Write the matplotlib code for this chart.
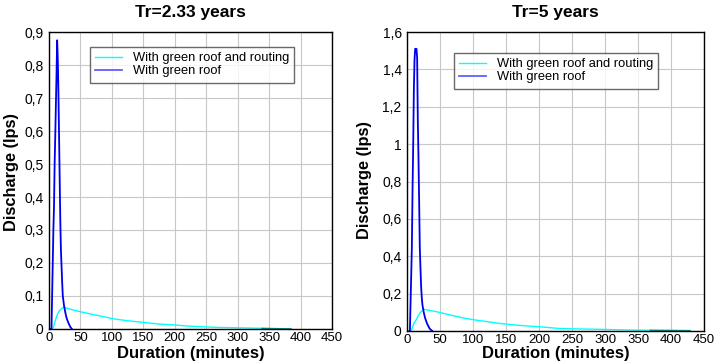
import numpy as np
import matplotlib
matplotlib.use("Agg")
import matplotlib.pyplot as plt
from matplotlib.ticker import FuncFormatter

plt.rcParams["font.family"] = ["Liberation Sans", "DejaVu Sans"]

# ---- data ----
# Tr = 2.33 years
t_roof_233 = [3, 4, 5, 6, 7, 8, 9, 10, 11, 12, 13, 14, 15, 16, 17, 18, 19, 20, 21, 22,
              24, 26, 28, 31, 34, 36.5]
q_roof_233 = [0, 0.0, 0.1, 0.2, 0.3, 0.37, 0.5, 0.585, 0.68, 0.77, 0.875, 0.82, 0.72, 0.59,
              0.46, 0.33, 0.24, 0.19, 0.14, 0.1, 0.07, 0.05, 0.033, 0.018, 0.006, 0]
t_route_233 = [6, 8, 10, 12, 14, 17, 20, 24, 30, 46, 60, 85, 102, 125, 150, 175, 198, 220,
               240, 265, 289, 315, 339]
q_route_233 = [0, 0.012, 0.025, 0.037, 0.047, 0.056, 0.062, 0.066, 0.062, 0.054, 0.048,
               0.038, 0.031, 0.025, 0.02, 0.015, 0.0125, 0.009, 0.007, 0.005, 0.004, 0.003,
               0.002]
t_tail_233 = [339, 360, 385]
q_tail_233 = [0.002, 0.0012, 0.0005]

# Tr = 5 years
t_roof_5 = [3, 4, 5, 6, 7, 8, 9, 10, 11, 12, 14, 15, 16, 17, 18, 19, 20, 21, 22, 23, 25,
            27, 30, 34, 38]
q_roof_5 = [0, 0, 0.15, 0.3, 0.45, 0.75, 0.99, 1.29, 1.45, 1.51, 1.51, 1.46, 1.13, 0.93,
            0.7, 0.45, 0.34, 0.24, 0.18, 0.14, 0.1, 0.07, 0.04, 0.012, 0]
t_route_5 = [6, 8, 10, 13.6, 17, 20, 25, 30, 44.6, 60, 84.5, 101, 141, 170, 202, 232, 260,
             303, 340, 369]
q_route_5 = [0, 0.02, 0.04, 0.06, 0.085, 0.1, 0.116, 0.113, 0.103, 0.09, 0.07, 0.06, 0.04,
             0.03, 0.022, 0.013, 0.011, 0.008, 0.005, 0.004]
t_tail_5 = [369, 400, 429]
q_tail_5 = [0.004, 0.003, 0.002]

titles = ["Tr=2.33 years", "Tr=5 years"]
y_max = [0.9, 1.6]
y_step = [0.1, 0.2]
x_ticks = np.arange(0, 451, 50)

fig = plt.figure(figsize=(7.17, 3.63), dpi=100)
ax_l = fig.add_axes([0.0683, 0.0937, 0.3947, 0.8181])
ax_r = fig.add_axes([0.5680, 0.0882, 0.4139, 0.8236])


def comma_fmt(v, pos):
    s = f"{v:.1f}".rstrip("0").rstrip(".")
    return s.replace(".", ",")


panels = [
    (ax_l, t_route_233, q_route_233, t_tail_233, q_tail_233, t_roof_233, q_roof_233,
     (0.145, 0.95), (-0.106, 0.53), -0.0575),
    (ax_r, t_route_5, q_route_5, t_tail_5, q_tail_5, t_roof_5, q_roof_5,
     (0.158, 0.93), (-0.118, 0.505), -0.050),
]

for i, (ax, tr, qr, tt, qt, tb, qb, leg_pos, ylab_pos, xlab_y) in enumerate(panels):
    ax.plot(tr, qr, color="#00ffff", lw=1.0, label="With green roof and routing")
    ax.plot(tt, qt, color="#00908a", lw=1.0)
    ax.plot(tb, qb, color="#0000ee", lw=1.3, label="With green roof")

    ax.set_xlim(0, 450)
    ax.set_ylim(0, y_max[i])
    ax.set_xticks(x_ticks)
    ax.set_yticks(np.arange(0, y_max[i] + 1e-9, y_step[i]))
    ax.yaxis.set_major_formatter(FuncFormatter(comma_fmt))
    ax.tick_params(axis="y", length=0, labelsize=10, pad=4)
    ax.tick_params(axis="x", length=0, labelsize=9.5, pad=2)
    ax.grid(True, color="#c8c8c8", lw=0.8)
    ax.set_axisbelow(True)
    for sp in ax.spines.values():
        sp.set_color("black")
        sp.set_linewidth(1.0)

    ax.set_title(titles[i], fontsize=12.5, fontweight="bold", pad=11)
    ax.set_xlabel("Duration (minutes)", fontsize=12, fontweight="bold")
    ax.xaxis.set_label_coords(0.5, xlab_y)
    ax.set_ylabel("Discharge (lps)", fontsize=11.8, fontweight="bold")
    ax.yaxis.set_label_coords(*ylab_pos)

    leg = ax.legend(loc="upper left", bbox_to_anchor=leg_pos, borderaxespad=0,
                    fontsize=9.3, frameon=True, fancybox=False, handlelength=2.1,
                    labelspacing=0.1, borderpad=0.4, handletextpad=0.8)
    leg.get_frame().set_edgecolor("#444444")
    leg.get_frame().set_linewidth(1.0)
    leg.legend_handles[1].set_color("#6060ff")

fig.savefig("out.png", dpi=100)
